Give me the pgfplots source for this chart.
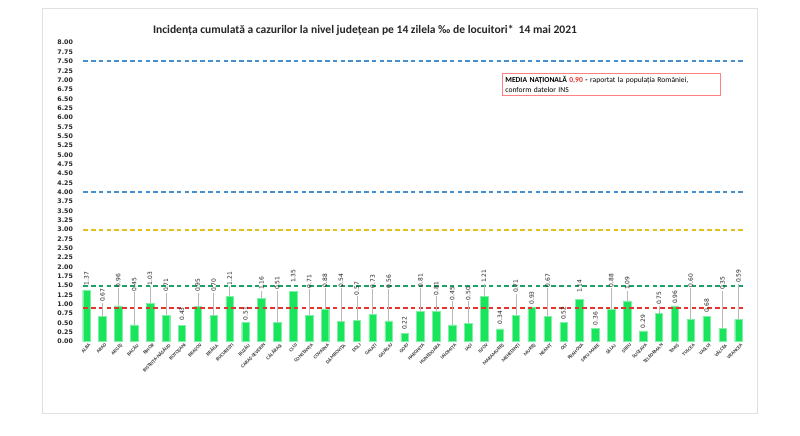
\documentclass[border=0pt]{standalone}
\usepackage{fontspec}
\setmainfont{Carlito}
\newfontfamily\dejavu{DejaVu Sans}
\usepackage{pgfplots}
\usepackage{pgfplotstable}
\pgfplotsset{compat=1.18}
\definecolor{barg}{RGB}{24,228,92}
\definecolor{lblue}{RGB}{70,145,205}
\definecolor{lyellow}{RGB}{228,192,30}
\definecolor{lgreen}{RGB}{30,160,105}
\definecolor{lred}{RGB}{232,50,45}
\pgfplotstableread{
idx val ly le lab
0 1.37 1.50 0 1.37
1 0.67 1.05 0.36 0.67
2 0.96 1.45 0.47 0.96
3 0.45 1.34 0.87 0.45
4 1.03 1.50 0.45 1.03
5 0.71 1.32 0.59 0.71
6 0.43 0.55 0 0.43
7 0.95 1.32 0.35 0.95
8 0.70 1.32 0.60 0.70
9 1.21 1.50 0.27 1.21
10 0.51 0.56 0 0.51
11 1.16 1.37 0.19 1.16
12 0.51 1.37 0.84 0.51
13 1.35 1.56 0 1.35
14 0.71 1.42 0.69 0.71
15 0.88 1.45 0.55 0.88
16 0.54 1.45 0.90 0.54
17 0.57 1.23 0.64 0.57
18 0.73 1.42 0.67 0.73
19 0.56 1.42 0.84 0.56
20 0.22 0.30 0 0.22
21 0.81 1.45 0.62 0.81
22 0.81 1.23 0.40 0.81
23 0.45 1.10 0.63 0.45
24 0.50 1.10 0.58 0.50
25 1.21 1.56 0.33 1.21
26 0.34 0.45 0 0.34
27 0.71 1.29 0.56 0.71
28 0.93 0.98 0 0.93
29 0.67 1.45 0.76 0.67
30 0.52 0.57 0 0.52
31 1.14 1.29 0 1.14
32 0.36 0.42 0 0.36
33 0.88 1.45 0.55 0.88
34 1.09 1.37 0.26 1.09
35 0.29 0.35 0 0.29
36 0.75 0.97 0.20 0.75
37 0.96 1.00 0 0.96
38 0.60 1.45 0.83 0.60
39 0.68 0.78 0 0.68
40 0.35 1.37 1.00 0.35
41 0.59 1.56 0.95 0.59
}\data
\begin{document}
\begin{tikzpicture}
\fill[white] (0,0) rectangle (800bp,436bp);
\draw[black!12, line width=0.8bp] (42bp,428bp) rectangle (757bp,23bp);
\node[font=\bfseries\fontsize{11.6}{13}\selectfont, text=black!85] at (365bp,406bp)
  {Incidența cumulată a cazurilor la nivel județean pe 14 zilela ‰ de locuitori*\ \ 14 mai 2021};
\begin{axis}[
  at={(78.5bp,94.3bp)}, anchor=south west, scale only axis,
  width=667.9bp, height=299bp,
  xmin=-0.5, xmax=41.5, ymin=0, ymax=8,
  axis line style={draw=none}, tick style={draw=none},
  clip=false,
  /pgf/number format/assume math mode=true,
  ytick={0,0.25,...,8.01},
  yticklabel style={/pgf/number format/fixed, /pgf/number format/fixed zerofill,
    /pgf/number format/precision=2,
    font=\dejavu\bfseries\fontsize{6.3}{7}\selectfont, text=black!85, xshift=-2bp},
  xtick={0,...,41},
  xticklabels={ALBA,ARAD,ARGEȘ,BACĂU,BIHOR,BISTRIȚA-NĂSĂUD,BOTOȘANI,BRAȘOV,BRĂILA,BUCUREȘTI,BUZĂU,CARAȘ-SEVERIN,CĂLĂRAȘI,CLUJ,CONSTANȚA,COVASNA,DÂMBOVIȚA,DOLJ,GALAȚI,GIURGIU,GORJ,HARGHITA,HUNEDOARA,IALOMIȚA,IAȘI,ILFOV,MARAMUREȘ,MEHEDINȚI,MUREȘ,NEAMȚ,OLT,PRAHOVA,SATU MARE,SĂLAJ,SIBIU,SUCEAVA,TELEORMAN,TIMIȘ,TULCEA,VASLUI,VÂLCEA,VRANCEA},
  xticklabel style={rotate=45, anchor=north east, inner sep=0.5bp, font=\bfseries\fontsize{4.9}{5}\selectfont, text=black!80, xshift=1bp, yshift=-2bp},
]
\addplot[ybar, bar width=7.5bp, fill=barg, draw=barg!55!white, line width=0.4bp] table[x=idx,y=val]{\data};
\addplot[draw=lblue, dash pattern=on 4.6bp off 3.2bp, line width=1.95bp] coordinates {(-0.2,7.5) (41.45,7.5)};
\addplot[draw=lblue, dash pattern=on 4.6bp off 3.2bp, line width=1.95bp] coordinates {(-0.2,4) (41.45,4)};
\addplot[draw=lyellow, dash pattern=on 4.6bp off 3.2bp, line width=1.95bp] coordinates {(-0.2,3) (41.45,3)};
\addplot[draw=lgreen, dash pattern=on 4.6bp off 3.2bp, line width=1.95bp] coordinates {(-0.2,1.5) (41.45,1.5)};
\addplot[draw=lred, dash pattern=on 4.6bp off 3.2bp, line width=1.95bp] coordinates {(-0.2,0.9) (41.45,0.9)};
\addplot[draw=none, mark=none, forget plot, error bars/.cd, y dir=plus, y explicit, error mark=none,
  error bar style={draw=black!28, line width=0.5bp, solid}] table[x=idx,y=val,y error=le]{\data};
\addplot[draw=none, mark=none, nodes near coords, point meta=explicit symbolic,
  every node near coord/.style={rotate=90, anchor=west, inner sep=0.3bp,
    font=\dejavu\fontsize{6}{7}\selectfont, text=black!85}] table[x=idx,y=ly,meta=lab]{\data};
\end{axis}
\node[draw=red!50, line width=0.8bp, anchor=north west, text width=212bp, inner sep=3bp, align=left,
  font=\fontsize{7.6}{9.5}\selectfont, fill=white] at (502bp,363bp)
  {\textbf{MEDIA NAȚIONALĂ \textcolor{lred}{0,90} -} raportat la populația României,\\conform datelor INS};
\pgfresetboundingbox
\useasboundingbox (0,0) rectangle (800bp,436bp);
\end{tikzpicture}
\end{document}
